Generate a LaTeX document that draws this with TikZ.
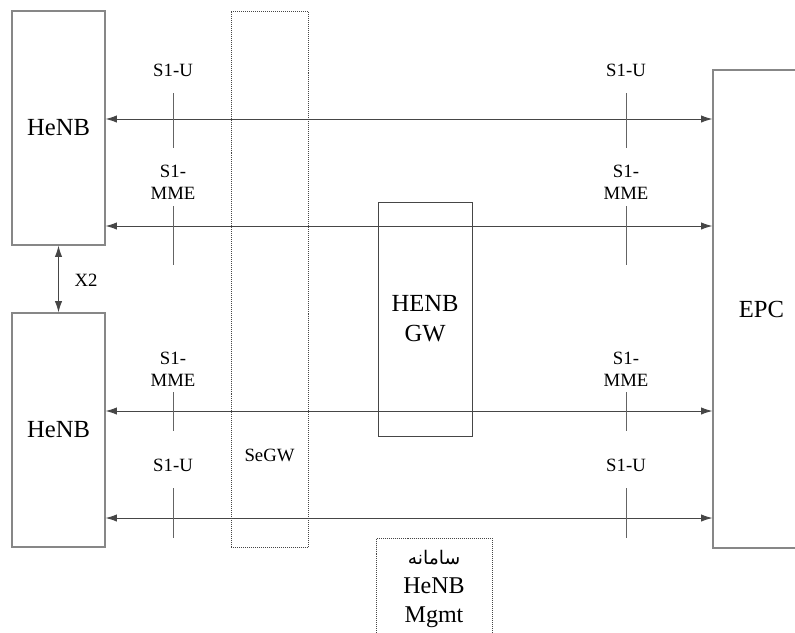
\documentclass[tikz,border=0pt]{standalone}
\usepackage{fontspec}
\setmainfont{Liberation Serif}
\newfontfamily\arabicfont[Script=Arabic]{DejaVu Sans}
\TeXXeTstate=1
\usepackage{tikz}
\usetikzlibrary{arrows.meta, positioning}
\definecolor{boxgray}{RGB}{135,135,135}
\definecolor{linegray}{RGB}{70,70,70}
\definecolor{tickgray}{RGB}{100,100,100}
\tikzset{
  entity/.style={rectangle, draw=boxgray, line width=0.9pt, inner sep=0pt,
    font=\fontsize{21}{25.5}\selectfont},
  gwbox/.style={rectangle, draw=linegray, line width=0.8pt, inner sep=0pt,
    align=center, font=\fontsize{21}{25.5}\selectfont},
  dotbox/.style={rectangle, draw=linegray, densely dotted, line width=0.7pt, inner sep=0pt},
  iflabel/.style={font=\fontsize{16}{18.5}\selectfont, align=center, inner sep=1pt},
  link/.style={{Latex[length=3.4mm,width=2.2mm]}-{Latex[length=3.4mm,width=2.2mm]},
    line width=0.8pt, color=linegray},
  ifmark/.style={line width=0.7pt, color=tickgray}
}

\begin{document}
\begin{tikzpicture}[x=0.03cm, y=-0.03cm]
  \useasboundingbox (0,0) rectangle (795,632);

  % ── HeNBs (left) ───────────────────────────────────────────────────────────
  \node[entity, minimum width=2.79cm, minimum height=7.02cm] (henbA) at (58.5,128) {HeNB};
  \node[entity, minimum width=2.79cm, minimum height=7.02cm] (henbB) at (58.5,430) {HeNB};
  \draw[link] (henbA.south) -- (henbB.north);
  \node[iflabel] (x2lbl) at (86,280) {X2};

  % ── Gateways ───────────────────────────────────────────────────────────────
  \node[dotbox, minimum width=2.31cm, minimum height=16.08cm] (segw) at (269.5,279) {};
  \node[iflabel] (segwlbl) at (269.5,455) {SeGW};
  \node[gwbox, minimum width=2.82cm, minimum height=7.02cm] (henbgw) at (425,319) {HENB\\GW};

  % ── Core (right) ───────────────────────────────────────────────────────────
  \node[entity, minimum width=2.91cm, minimum height=14.34cm] (epc) at (761.5,309) {EPC};

  % ── Management system (bottom) ─────────────────────────────────────────────
  \node[dotbox, minimum width=3.48cm, minimum height=3.36cm] (mgmt) at (434,594) {};
  \node[align=center, inner sep=0pt, font=\fontsize{20.5}{25}\selectfont] (mgmtlbl) at (434,589)
    {{\arabicfont\fontsize{16}{17}\selectfont\beginR سامانه\endR}\\HeNB\\Mgmt};

  % ── S1 interfaces ──────────────────────────────────────────────────────────
  \coordinate (rowA) at (0,119);
  \coordinate (rowB) at (0,226);
  \coordinate (rowC) at (0,411);
  \coordinate (rowD) at (0,518);
  \draw[link] (henbA.east |- rowA) -- (epc.west |- rowA);
  \draw[link] (henbA.east |- rowB) -- (epc.west |- rowB);
  \draw[link] (henbB.east |- rowC) -- (epc.west |- rowC);
  \draw[link] (henbB.east |- rowD) -- (epc.west |- rowD);

  \foreach \x in {173,626} {
    \draw[ifmark] (\x,93) -- (\x,148);
    \draw[ifmark] (\x,206) -- (\x,265);
    \draw[ifmark] (\x,392) -- (\x,431);
    \draw[ifmark] (\x,488) -- (\x,538);
    \node[iflabel] (s1uA\x) at (\x,70) {S1-U};
    \node[iflabel] (s1mA\x) at (\x,182) {S1-\\MME};
    \node[iflabel] (s1mB\x) at (\x,369) {S1-\\MME};
    \node[iflabel] (s1uB\x) at (\x,465) {S1-U};
  }
\end{tikzpicture}
\end{document}
